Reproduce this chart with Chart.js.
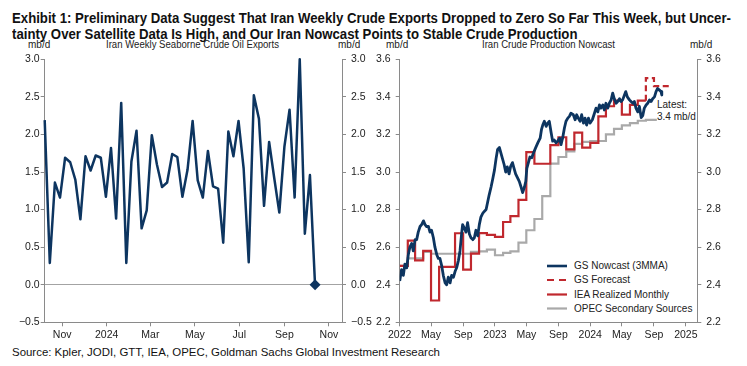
<!DOCTYPE html>
<html><head><meta charset="utf-8">
<script src="https://cdn.jsdelivr.net/npm/chart.js@4.4.1/dist/chart.umd.min.js"></script>
<style>
html,body{margin:0;padding:0;background:#fff;}
body{width:747px;height:366px;position:relative;overflow:hidden;font-family:"Liberation Sans",Arial,sans-serif;color:#1a1a1a;}
.t{position:absolute;white-space:nowrap;transform-origin:0 0;}
.s{font-size:10px;line-height:12px;color:#222;}
canvas{position:absolute;}
</style></head><body>
<div id="title1" class="t" style="left:12px;top:9.5px;font-weight:bold;font-size:14px;line-height:16px;font-family:'Liberation Sans Narrow','Liberation Sans',Arial;color:#111;">Exhibit 1: Preliminary Data Suggest That Iran Weekly Crude Exports Dropped to Zero So Far This Week, but Uncer-</div>
<div id="title2" class="t" style="left:12px;top:25.5px;font-weight:bold;font-size:14px;line-height:16px;font-family:'Liberation Sans Narrow','Liberation Sans',Arial;color:#111;">tainty Over Satellite Data Is High, and Our Iran Nowcast Points to Stable Crude Production</div>
<div id="st1" class="t s" style="top:39px;">Iran Weekly Seaborne Crude Oil Exports</div>
<div id="st2" class="t s" style="top:39px;">Iran Crude Production Nowcast</div>
<div class="t s" style="left:28px;top:39px;">mb/d</div>
<div class="t s" style="left:338px;top:39px;">mb/d</div>
<div class="t s" style="left:386px;top:39px;">mb/d</div>
<div class="t s" style="left:690px;top:39px;">mb/d</div>
<div class="t s" style="left:657px;top:99px;">Latest:</div>
<div class="t s" style="left:657px;top:110.5px;">3.4 mb/d</div>
<svg style="position:absolute;left:0;top:0;" width="747" height="366">
  <line x1="547" y1="266" x2="567" y2="266" stroke="#0d3560" stroke-width="2.6"/>
  <line x1="547" y1="280" x2="567" y2="280" stroke="#c0282e" stroke-width="2.2" stroke-dasharray="7,5"/>
  <line x1="547" y1="294.5" x2="567" y2="294.5" stroke="#c0282e" stroke-width="2.2"/>
  <line x1="547" y1="308.5" x2="567" y2="308.5" stroke="#a9a9a9" stroke-width="2.2"/>
</svg>
<div class="t s" style="left:574px;top:260px;">GS Nowcast (3MMA)</div>
<div class="t s" style="left:574px;top:274px;">GS Forecast</div>
<div class="t s" style="left:574px;top:288.5px;">IEA Realized Monthly</div>
<div class="t s" style="left:574px;top:302.5px;">OPEC Secondary Sources</div>
<div id="src" class="t" style="left:12px;top:345.5px;font-size:11px;line-height:13px;color:#111;">Source: Kpler, JODI, GTT, IEA, OPEC, Goldman Sachs Global Investment Research</div>
<canvas id="c1" width="372" height="300" style="left:0;top:48px;"></canvas>
<canvas id="c2" width="375" height="300" style="left:372px;top:48px;"></canvas>
<script>
// ---------- DATA ----------
// Left panel: weekly seaborne crude exports (mb/d), weeks starting 2023-10-08
const exportStartWeek = '2023-10-08';
const exportValues = [2.19,0.29,1.36,1.16,1.69,1.63,1.40,0.87,1.71,1.52,1.72,1.69,1.17,1.82,0.88,2.42,0.29,1.64,2.05,0.75,
  0.99,1.99,1.60,1.30,1.36,1.74,1.70,1.17,1.53,2.18,1.39,1.16,1.78,1.31,1.28,0.56,2.04,1.71,2.18,1.55,
  0.30,2.52,2.21,1.05,1.90,1.42,0.96,1.84,2.33,1.16,3.00,0.68,1.46,0.00];
const leftTickDates = ['2023-11-01','2024-01-01','2024-03-01','2024-05-01','2024-07-01','2024-09-01','2024-11-01'];
const leftTickLabels = ['Nov','2024','Mar','May','Jul','Sep','Nov'];
const leftYTicks = [-0.5,0,0.5,1,1.5,2,2.5,3];

// Right panel: GS nowcast (days since 2022-01-01, mb/d)
const nowcastDay = [0,7,14,20,27,33,39,46,52,59,65,71,78,84,91,97,103,110,116,122,129,135,142,148,154,161,167,174,180,186,193,199,206,212,218,225,231,237,241,248,254,260,267,273,280,286,292,299,305,311,318,324,331,337,343,350,356,363,369,375,382,
  391,400,406,412,419,425,432,438,444,451,458,465,471,478,483,487,493,499,506,512,521,529,538,543,548,554,561,567,573,580,586,592,599,605,612,618,624,631,637,644,650,656,665,672,678,684,691,697,704,710,716,723,729,738,746,752,759,765,771,778,784,790,797,803,810,816,822,829,835,842,848,854,861,866,872,880,886,893,899,905,912,918,925,931,937,944,950,957,963,969,976,982,988,995,1001,1004];
const nowcastValues = [2.42,2.48,2.45,2.51,2.49,2.56,2.60,2.62,2.58,2.64,2.64,2.68,2.71,2.72,2.74,2.72,2.71,2.71,2.68,2.69,2.65,2.60,2.56,2.54,2.54,2.50,2.45,2.41,2.40,2.44,2.41,2.45,2.44,2.47,2.49,2.53,2.58,2.67,2.72,2.70,2.68,2.73,2.67,2.65,2.64,2.65,2.69,2.66,2.72,2.76,2.78,2.79,2.80,2.84,2.88,2.92,2.96,3.01,3.07,3.12,3.13,
  3.085,3.04,3.00,3.027,2.99,3.03,3.05,3.02,2.99,2.97,2.95,2.92,2.89,2.92,2.95,3.02,3.05,3.08,3.076,3.10,3.13,3.155,3.18,3.225,3.25,3.27,3.243,3.26,3.27,3.21,3.164,3.17,3.155,3.164,3.18,3.146,3.18,3.234,3.27,3.287,3.296,3.313,3.305,3.278,3.305,3.287,3.27,3.305,3.26,3.287,3.25,3.287,3.26,3.278,3.313,3.34,3.32,3.357,3.34,3.357,3.33,3.366,3.34,3.366,3.384,3.42,3.39,3.366,3.375,3.39,3.375,3.384,3.41,3.428,3.40,3.384,3.375,3.366,3.375,3.34,3.32,3.35,3.29,3.30,3.34,3.357,3.366,3.384,3.375,3.39,3.40,3.428,3.445,3.436,3.428,3.41];

// IEA realized monthly, Jan 2022 .. Jul 2024
const ieaStartMonth = '2022-01';
const ieaValues = [2.50,2.635,2.53,2.58,2.316,2.495,2.495,2.674,2.48,2.566,2.675,2.665,
  2.655,2.734,2.765,2.852,3.106,3.044,3.044,3.143,3.185,3.12,3.21,3.13,
  3.155,3.296,3.35,3.38,3.305,3.357,3.38];
// GS forecast, Aug .. Oct 2024
const forecastStartMonth = '2024-08';
const forecastValues = [3.50,3.457,3.457];
// OPEC secondary sources, Jan 2022 .. Aug 2024
const opecStartMonth = '2022-01';
const opecValues = [2.50,2.54,2.54,2.575,2.565,2.565,2.565,2.565,2.565,2.575,2.578,2.587,
  2.557,2.57,2.578,2.624,2.69,2.75,2.872,3.045,3.08,3.11,3.15,3.16,
  3.165,3.165,3.20,3.23,3.248,3.26,3.273,3.278];
const opecLastDate = '2024-09-12';

const rightTickDates = ['2022-01-01','2022-05-01','2022-09-01','2023-01-01','2023-05-01','2023-09-01','2024-01-01','2024-05-01','2024-09-01','2025-01-01'];
const rightTickLabels = ['2022','May','Sep','2023','May','Sep','2024','May','Sep','2025'];
const rightYTicks = [2.2,2.4,2.6,2.8,3.0,3.2,3.4,3.6];

// ---------- helpers ----------
const EPOCH = Date.UTC(2022,0,1);
function dayNum(s){const p=s.split('-').map(Number);return (Date.UTC(p[0],p[1]-1,p[2]||1)-EPOCH)/864e5;}
function monthDay(start,i){const p=start.split('-').map(Number);return (Date.UTC(p[0],p[1]-1+i,1)-EPOCH)/864e5;}
function monthlySteps(start,vals,endDay){
  const pts=vals.map((v,i)=>({x:monthDay(start,i),y:v}));
  pts.push({x:endDay,y:vals[vals.length-1]});
  return pts;
}

const NAVY='#0d3560', RED='#c0282e', GRAY='#a9a9a9', AX='#8a8a8a';
Chart.defaults.font.family="'Liberation Sans', Arial, sans-serif";
Chart.defaults.font.size=10.5;
Chart.defaults.color='#222';
Chart.defaults.animation=false;

function fmt(v){return (v<0?'\u2212':'')+Math.abs(v).toFixed(1);}

function yAxis(pos,ticksArr,width,pad,zeroLine){
  return {
    type:'linear',position:pos,min:ticksArr[0],max:ticksArr[ticksArr.length-1],
    afterBuildTicks:s=>{s.ticks=ticksArr.map(v=>({value:v}));},
    ticks:{callback:v=>fmt(v),padding:pad,autoSkip:false},
    grid:{drawOnChartArea:!!zeroLine,tickLength:4,tickColor:AX,lineWidth:1,
      color:zeroLine?(c=>(c.tick&&Math.abs(c.tick.value)<1e-9)?'#a3a3a3':'rgba(0,0,0,0)'):AX},
    border:{display:true,color:AX,width:1},
    afterFit:s=>{s.width=width;}
  };
}
function xAxis(min,max,tickDates,tickLabels){
  return {
    type:'linear',min:min,max:max,
    afterBuildTicks:s=>{s.ticks=tickDates.map(d=>({value:dayNum(d)}));},
    ticks:{callback:(v,i)=>tickLabels[i],autoSkip:false,maxRotation:0,minRotation:0,padding:3},
    grid:{drawOnChartArea:false,tickLength:4,color:AX},
    border:{display:true,color:AX,width:1},
    afterFit:s=>{s.height=25.7;}
  };
}

// ---------- left chart ----------
const w0=dayNum(exportStartWeek);
const exportPts=exportValues.map((v,i)=>({x:w0+7*i,y:v}));
new Chart(document.getElementById('c1'),{
  type:'line',
  data:{datasets:[{data:exportPts,borderColor:NAVY,backgroundColor:NAVY,borderWidth:2.5,tension:0,
    borderJoinStyle:'round',clip:false,pointStyle:'rectRot',
    pointRadius:c=>c.dataIndex===exportValues.length-1?5.5:0,pointBorderWidth:0,pointHoverRadius:0}]},
  options:{responsive:false,devicePixelRatio:1,events:[],
    layout:{padding:{top:8.7,left:0,right:0,bottom:0}},
    plugins:{legend:{display:false},tooltip:{enabled:false}},
    scales:{
      x:xAxis(dayNum('2023-10-08'),dayNum('2024-11-19'),leftTickDates,leftTickLabels),
      y:yAxis('left',leftYTicks,44.7,1,true),
      y2:yAxis('right',leftYTicks,30,5,false)
    }}
});

// ---------- right chart ----------
const nowPts=nowcastDay.map((d,i)=>({x:d,y:nowcastValues[i]}));
const ieaPts=monthlySteps(ieaStartMonth,ieaValues,monthDay(ieaStartMonth,ieaValues.length));
const fcPts=[{x:monthDay(forecastStartMonth,0),y:ieaValues[ieaValues.length-1]}].concat(
  monthlySteps(forecastStartMonth,forecastValues,monthDay(forecastStartMonth,forecastValues.length)));
const opecPts=monthlySteps(opecStartMonth,opecValues,dayNum(opecLastDate));
new Chart(document.getElementById('c2'),{
  type:'line',
  data:{datasets:[
    {data:nowPts,borderColor:NAVY,borderWidth:2.8,tension:0,pointRadius:0,borderJoinStyle:'round'},
    {data:fcPts,borderColor:RED,borderWidth:2.2,stepped:true,pointRadius:0,borderDash:[6,3.5]},
    {data:ieaPts,borderColor:RED,borderWidth:2.2,stepped:true,pointRadius:0},
    {data:opecPts,borderColor:GRAY,borderWidth:2.2,stepped:true,pointRadius:0}
  ]},
  options:{responsive:false,devicePixelRatio:1,events:[],
    layout:{padding:{top:8.7,left:0,right:0,bottom:0}},
    plugins:{legend:{display:false},tooltip:{enabled:false}},
    scales:{
      x:xAxis(0,1140,rightTickDates,rightTickLabels),
      y:yAxis('left',rightYTicks,27.7,5,false),
      y2:yAxis('right',rightYTicks,49.7,5,false)
    }}
});

// ---------- text fitting ----------
function fitW(el,w){const r=el.getBoundingClientRect().width;el.style.transform='scaleX('+(w/r)+')';return w/r;}
const k=fitW(document.getElementById('title1'),719);
document.getElementById('title2').style.transform='scaleX('+k+')';
function center(id,cx,w){const el=document.getElementById(id);fitW(el,w);el.style.left=(cx-w/2)+'px';}
center('st1',192.7,173);
center('st2',548,133);
fitW(document.getElementById('src'),428);
</script>
</body></html>
